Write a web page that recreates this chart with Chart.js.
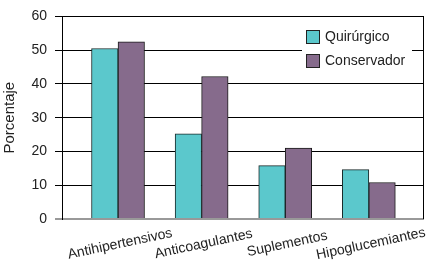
<!DOCTYPE html>
<html lang="es">
<head>
  <meta charset="UTF-8" />
  <title>Porcentaje por tratamiento</title>
  <script src="https://cdn.jsdelivr.net/npm/chart.js"></script>
  <style>
    html, body { margin: 0; padding: 0; background: #fff; }
    #wrap { width: 432px; height: 274px; position: relative; }
  </style>
</head>
<body>
<div id="wrap"><canvas id="barChart"></canvas></div>

<script>
const categories = ['Antihipertensivos', 'Anticoagulantes', 'Suplementos', 'Hipoglucemiantes'];
const quirurgico = [50.5, 25.2, 15.8, 14.6];
const conservador = [52.5, 42.2, 21.0, 10.8];
const yTicks = [0, 10, 20, 30, 40, 50, 60];
const seriesNames = ['Quirúrgico', 'Conservador'];
const seriesColors = ['#5bc8cc', '#866b8c'];

const FONT = 'Liberation Sans, Arial, sans-serif';

// etiquetas del eje x, giradas y centradas bajo cada grupo
const xLabels = {
  id: 'xLabels',
  afterDraw(chart) {
    const ctx = chart.ctx;
    const xs = chart.scales.x;
    ctx.save();
    ctx.font = '14px ' + FONT;
    ctx.fillStyle = '#222';
    ctx.textAlign = 'center';
    ctx.textBaseline = 'middle';
    categories.forEach((c, i) => {
      ctx.save();
      ctx.translate(xs.getPixelForValue(i) + 2, chart.chartArea.bottom + 25);
      ctx.rotate(-12 * Math.PI / 180);
      ctx.fillText(c, 0, 0);
      ctx.restore();
    });
    ctx.restore();
  }
};

// marco derecho + leyenda dentro del área
const frameLegend = {
  id: 'frameLegend',
  afterDraw(chart) {
    const ctx = chart.ctx;
    const a = chart.chartArea;
    ctx.save();
    ctx.strokeStyle = '#000';
    ctx.lineWidth = 1;
    ctx.beginPath();
    ctx.moveTo(a.right - 0.5, a.top);
    ctx.lineTo(a.right - 0.5, a.bottom);
    ctx.stroke();

    ctx.fillStyle = '#fff';
    ctx.fillRect(302, 21, 110, 55);
    ctx.font = '14px ' + FONT;
    ctx.textBaseline = 'middle';
    chart.data.datasets.forEach((ds, i) => {
      const y = 30 + i * 24;
      ctx.fillStyle = ds.backgroundColor;
      ctx.fillRect(306, y, 14, 14);
      ctx.strokeStyle = '#222';
      ctx.strokeRect(306.5, y + 0.5, 13, 13);
      ctx.fillStyle = '#222';
      ctx.fillText(ds.label, 325, y + 7.5);
    });
    ctx.restore();
  }
};

const toPoints = arr => arr.map((v, i) => ({ x: i, y: v }));

new Chart(document.getElementById('barChart'), {
  type: 'bar',
  data: {
    datasets: [
      {
        label: seriesNames[0],
        data: toPoints(quirurgico),
        backgroundColor: seriesColors[0],
        borderColor: '#1a2a2a',
        borderWidth: 1,
        barThickness: 26.5
      },
      {
        label: seriesNames[1],
        data: toPoints(conservador),
        backgroundColor: seriesColors[1],
        borderColor: '#1a1a1a',
        borderWidth: 1,
        barThickness: 26.5
      }
    ]
  },
  options: {
    responsive: true,
    maintainAspectRatio: false,
    animation: false,
    layout: { padding: { top: 15, right: 8, bottom: 55, left: 0 } },
    plugins: {
      legend: { display: false },
      tooltip: { enabled: false }
    },
    scales: {
      x: {
        type: 'linear',
        min: -0.67,
        max: 3.66,
        bounds: 'data',
        offset: false,
        grid: { offset: false },
        ticks: { stepSize: 1, includeBounds: false },
        display: false
      },
      y: {
        min: 0,
        max: 60,
        afterBuildTicks: scale => { scale.ticks = yTicks.map(v => ({ value: v })); },
        afterFit: scale => { scale.width = 62; },
        ticks: {
          padding: 8,
          color: '#222',
          font: { family: FONT, size: 14 }
        },
        grid: {
          tickLength: 7,
          color: ctx => ctx.tick && ctx.tick.value === 0 ? '#999' : '#000',
          lineWidth: ctx => ctx.tick && ctx.tick.value === 0 ? 2 : 1
        },
        border: { color: '#000', width: 1 },
        title: {
          display: true,
          text: 'Porcentaje',
          color: '#222',
          font: { family: FONT, size: 15 },
          padding: { top: 1, bottom: 0 }
        }
      }
    }
  },
  plugins: [xLabels, frameLegend]
});
</script>
</body>
</html>
